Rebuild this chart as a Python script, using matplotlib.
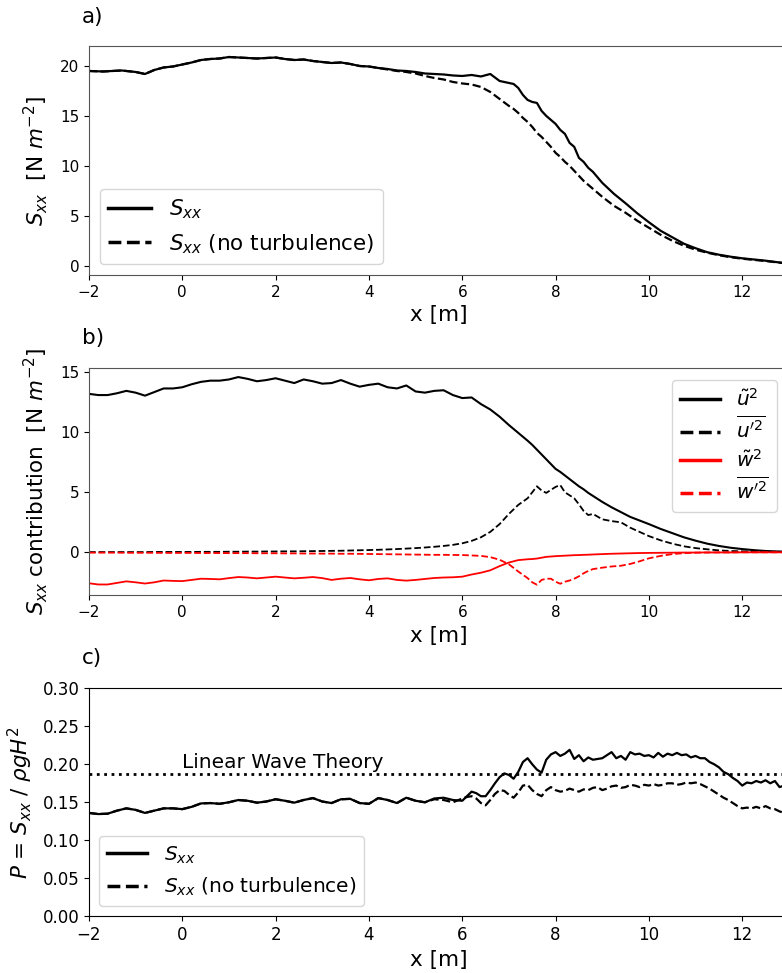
import numpy as np
import matplotlib
matplotlib.use('Agg')
import matplotlib.pyplot as plt

# ---- a) radiation stress along the flume ----
x_a = [-2.0, -1.7, -1.3, -1.0, -0.8, -0.6, -0.4, -0.2, 0.0, 0.2, 0.4, 0.6, 0.8, 1.0,
       1.2, 1.4, 1.6, 1.8, 2.0, 2.2, 2.4, 2.6, 2.8, 3.0, 3.2, 3.4, 3.6, 3.8, 4.0, 4.2,
       4.4, 4.6, 4.8, 5.0, 5.2, 5.4, 5.6, 5.8, 6.0, 6.2, 6.4, 6.6, 6.8, 7.0, 7.1, 7.2,
       7.3, 7.4, 7.5, 7.6, 7.7, 7.8, 7.9, 8.0, 8.1, 8.2, 8.3, 8.4, 8.5, 8.6, 8.7, 8.8,
       9.0, 9.25, 9.5, 9.75, 10.0, 10.25, 10.5, 10.75, 11.0, 11.25, 11.5, 11.75, 12.0,
       12.25, 12.5, 12.75, 13.0]
sxx_a = [19.5, 19.45, 19.55, 19.4, 19.2, 19.6, 19.85, 19.95, 20.15, 20.35, 20.6, 20.7,
         20.75, 20.9, 20.85, 20.8, 20.75, 20.8, 20.85, 20.7, 20.6, 20.65, 20.5, 20.4,
         20.3, 20.35, 20.2, 20.0, 19.95, 19.8, 19.7, 19.55, 19.5, 19.4, 19.25, 19.2,
         19.15, 19.05, 19.0, 19.1, 18.95, 19.2, 18.5, 18.3, 18.2, 17.8, 17.1, 16.6,
         16.4, 16.3, 15.5, 15.0, 14.6, 14.2, 13.6, 13.2, 12.3, 11.9, 10.8, 10.4, 9.8,
         9.4, 8.3, 7.2, 6.25, 5.25, 4.35, 3.5, 2.85, 2.2, 1.75, 1.35, 1.1, 0.9, 0.74,
         0.62, 0.5, 0.35, 0.2]
sxx_nt_a = [19.5, 19.45, 19.55, 19.4, 19.2, 19.6, 19.85, 19.95, 20.15, 20.35, 20.6, 20.7,
            20.75, 20.9, 20.85, 20.8, 20.75, 20.8, 20.85, 20.7, 20.6, 20.65, 20.5, 20.4,
            20.3, 20.35, 20.2, 20.0, 19.95, 19.8, 19.65, 19.5, 19.4, 19.25, 19.0, 18.8,
            18.65, 18.4, 18.25, 18.15, 17.9, 17.4, 16.7, 16.0, 15.7, 15.3, 14.8, 14.4,
            13.9, 13.3, 12.9, 12.4, 11.9, 11.3, 10.9, 10.4, 10.0, 9.5, 9.0, 8.5, 8.1,
            7.7, 6.9, 6.0, 5.3, 4.5, 3.8, 3.1, 2.5, 2.0, 1.6, 1.3, 1.05, 0.85, 0.7,
            0.58, 0.47, 0.33, 0.2]

# ---- b) contributions to Sxx ----
x_b = [-2.0, -1.8, -1.6, -1.4, -1.2, -1.0, -0.8, -0.6, -0.4, -0.2, 0.0, 0.2, 0.4, 0.6,
       0.8, 1.0, 1.2, 1.4, 1.6, 1.8, 2.0, 2.2, 2.4, 2.6, 2.8, 3.0, 3.2, 3.4, 3.6, 3.8,
       4.0, 4.2, 4.4, 4.6, 4.8, 5.0, 5.2, 5.4, 5.6, 5.8, 6.0, 6.2, 6.4, 6.6, 6.8, 7.0,
       7.2, 7.4, 7.5, 7.6, 7.7, 7.8, 7.9, 8.0, 8.1, 8.2, 8.3, 8.4, 8.5, 8.6, 8.7, 8.8,
       9.0, 9.2, 9.4, 9.6, 9.8, 10.0, 10.25, 10.5, 10.75, 11.0, 11.25, 11.5, 11.75,
       12.0, 12.25, 12.5, 12.75, 13.0]
u_wave = [13.2, 13.1, 13.1, 13.25, 13.45, 13.3, 13.05, 13.35, 13.65, 13.65, 13.75, 14.0,
          14.2, 14.3, 14.3, 14.4, 14.6, 14.45, 14.25, 14.35, 14.5, 14.3, 14.1, 14.4,
          14.25, 14.05, 14.1, 14.35, 14.05, 13.8, 13.95, 14.05, 13.75, 13.65, 13.9,
          13.4, 13.3, 13.45, 13.5, 13.1, 12.85, 12.9, 12.35, 11.9, 11.3, 10.6, 9.95,
          9.3, 8.95, 8.55, 8.15, 7.75, 7.35, 6.95, 6.7, 6.4, 6.1, 5.8, 5.5, 5.25, 4.95,
          4.7, 4.2, 3.75, 3.35, 2.95, 2.65, 2.35, 1.95, 1.6, 1.25, 0.97, 0.72, 0.53,
          0.38, 0.27, 0.18, 0.11, 0.07, 0.05]
u_turb = [0.02, 0.02, 0.02, 0.02, 0.02, 0.02, 0.02, 0.03, 0.03, 0.03, 0.03, 0.03, 0.04,
          0.04, 0.04, 0.05, 0.05, 0.06, 0.06, 0.07, 0.07, 0.08, 0.08, 0.09, 0.1, 0.11,
          0.12, 0.13, 0.15, 0.17, 0.19, 0.21, 0.24, 0.27, 0.31, 0.35, 0.4, 0.46, 0.53,
          0.62, 0.75, 0.95, 1.25, 1.7, 2.35, 3.2, 3.95, 4.5, 5.0, 5.5, 5.15, 4.95, 5.2,
          5.45, 5.6, 5.0, 4.75, 4.5, 4.0, 3.45, 3.1, 3.2, 2.75, 2.6, 2.5, 2.05, 1.7,
          1.35, 1.0, 0.72, 0.5, 0.35, 0.25, 0.16, 0.11, 0.08, 0.06, 0.05, 0.04, 0.03]
w_wave = [-2.58, -2.68, -2.68, -2.55, -2.42, -2.5, -2.6, -2.5, -2.35, -2.38, -2.4, -2.3,
          -2.2, -2.22, -2.25, -2.15, -2.06, -2.1, -2.17, -2.1, -2.03, -2.1, -2.17,
          -2.12, -2.06, -2.15, -2.3, -2.2, -2.14, -2.25, -2.33, -2.22, -2.17, -2.3,
          -2.36, -2.3, -2.22, -2.14, -2.1, -2.08, -2.03, -1.85, -1.7, -1.5, -1.15,
          -0.85, -0.65, -0.58, -0.56, -0.52, -0.45, -0.38, -0.35, -0.32, -0.3, -0.28,
          -0.26, -0.24, -0.23, -0.21, -0.2, -0.18, -0.15, -0.12, -0.1, -0.08, -0.06,
          -0.05, -0.04, -0.03, -0.02, -0.02, -0.01, -0.01, -0.01, 0.0, 0.0, 0.0, 0.0, 0.0]
w_turb = [-0.03, -0.03, -0.03, -0.03, -0.04, -0.04, -0.04, -0.04, -0.05, -0.05, -0.05,
          -0.05, -0.06, -0.06, -0.06, -0.07, -0.07, -0.07, -0.08, -0.08, -0.08, -0.09,
          -0.09, -0.1, -0.1, -0.11, -0.11, -0.12, -0.12, -0.13, -0.14, -0.15, -0.16,
          -0.17, -0.18, -0.19, -0.2, -0.21, -0.21, -0.22, -0.23, -0.26, -0.3, -0.4,
          -0.62, -1.0, -1.6, -2.15, -2.5, -2.7, -2.3, -2.2, -2.2, -2.45, -2.62, -2.45,
          -2.35, -2.2, -2.0, -1.75, -1.55, -1.4, -1.28, -1.18, -1.12, -0.97, -0.75,
          -0.5, -0.3, -0.15, -0.07, -0.03, -0.02, -0.01, -0.01, 0.0, 0.0, 0.0, 0.0, 0.0]

# ---- c) normalised Sxx ----
x_c = [-2.0, -1.8, -1.6, -1.4, -1.2, -1.0, -0.8, -0.6, -0.4, -0.2, 0.0, 0.2, 0.4, 0.6,
       0.8, 1.0, 1.2, 1.4, 1.6, 1.8, 2.0, 2.2, 2.4, 2.6, 2.8, 3.0, 3.2, 3.4, 3.6, 3.8,
       4.0, 4.2, 4.4, 4.6, 4.8, 5.0, 5.2, 5.4, 5.6, 5.8,
       6.0, 6.1, 6.2, 6.3, 6.4, 6.5, 6.6, 6.7, 6.8, 6.9, 7.0, 7.1, 7.2, 7.3, 7.4, 7.5,
       7.6, 7.7, 7.8, 7.9, 8.0, 8.1, 8.2, 8.3, 8.4, 8.5, 8.6, 8.7, 8.8, 8.9, 9.0, 9.1,
       9.2, 9.3, 9.4, 9.5, 9.6, 9.7, 9.8, 9.9, 10.0, 10.1, 10.2, 10.3, 10.4, 10.5,
       10.6, 10.7, 10.8, 10.9, 11.0, 11.1, 11.2, 11.3, 11.4, 11.5, 11.6, 11.7, 11.8,
       11.9, 12.0, 12.1, 12.2, 12.3, 12.4, 12.5, 12.6, 12.7, 12.8, 12.9, 13.0]
p_c = [0.136, 0.1345, 0.135, 0.139, 0.142, 0.140, 0.136, 0.139, 0.142, 0.142, 0.141,
       0.144, 0.1485, 0.149, 0.148, 0.150, 0.153, 0.152, 0.1495, 0.151, 0.154, 0.152,
       0.1495, 0.153, 0.1555, 0.151, 0.149, 0.154, 0.1545, 0.149, 0.148, 0.1555, 0.153,
       0.149, 0.156, 0.152, 0.150, 0.155, 0.156, 0.153,
       0.152, 0.158, 0.164, 0.162, 0.158, 0.158, 0.166, 0.175, 0.183, 0.188, 0.186,
       0.181, 0.190, 0.203, 0.208, 0.200, 0.193, 0.189, 0.206, 0.213, 0.216, 0.211,
       0.214, 0.219, 0.207, 0.212, 0.204, 0.209, 0.206, 0.207, 0.208, 0.212, 0.216,
       0.208, 0.211, 0.206, 0.216, 0.213, 0.214, 0.211, 0.212, 0.209, 0.215, 0.210,
       0.214, 0.212, 0.215, 0.212, 0.213, 0.209, 0.211, 0.208, 0.208, 0.203, 0.200,
       0.196, 0.190, 0.187, 0.182, 0.178, 0.172, 0.176, 0.175, 0.178, 0.176, 0.179,
       0.175, 0.178, 0.170, 0.172, 0.170]
p_nt_c = [0.136, 0.1345, 0.135, 0.139, 0.142, 0.140, 0.136, 0.139, 0.142, 0.142, 0.141,
          0.144, 0.1485, 0.149, 0.148, 0.150, 0.153, 0.152, 0.1495, 0.151, 0.154, 0.152,
          0.1495, 0.153, 0.1555, 0.151, 0.149, 0.154, 0.1545, 0.149, 0.148, 0.1555,
          0.153, 0.149, 0.156, 0.152, 0.150, 0.154, 0.153, 0.150,
          0.155, 0.157, 0.158, 0.155, 0.149, 0.146, 0.153, 0.161, 0.166, 0.165, 0.160,
          0.156, 0.163, 0.172, 0.173, 0.166, 0.161, 0.158, 0.166, 0.170, 0.166, 0.164,
          0.165, 0.168, 0.166, 0.164, 0.167, 0.166, 0.169, 0.170, 0.166, 0.168, 0.171,
          0.172, 0.169, 0.170, 0.173, 0.172, 0.170, 0.173, 0.172, 0.174, 0.172, 0.173,
          0.175, 0.175, 0.173, 0.174, 0.176, 0.175, 0.176, 0.174, 0.171, 0.168, 0.164,
          0.160, 0.156, 0.153, 0.149, 0.145, 0.142, 0.143, 0.142, 0.144, 0.142, 0.145,
          0.142, 0.141, 0.138, 0.136, 0.135]
p_linear = 0.1875


def style_axis(ax, ylim, spine_color):
    # x range goes a bit past the figure edge, like the original crop
    ax.set_xlim(-2, 13)
    ax.set_ylim(*ylim)
    ax.set_xticks([-2, 0, 2, 4, 6, 8, 10, 12])
    ax.set_xlabel('x [m]', fontsize=15.5)
    ax.tick_params(labelsize=11)
    for sp in ax.spines.values():
        sp.set_color(spine_color)


def thicken_legend(leg, lw):
    for line in leg.get_lines():
        line.set_linewidth(lw)


fig = plt.figure(figsize=(7.82, 9.73), dpi=100)

# a)
ax1 = fig.add_axes([0.1138, 0.7174, 0.895, 0.2353])
ax1.plot(x_a, sxx_a, color='black', lw=1.6, label=r'$S_{xx}$')
ax1.plot(x_a, sxx_nt_a, color='black', lw=1.6, ls='--', label=r'$S_{xx}$ (no turbulence)')
style_axis(ax1, (-0.93, 22.0), '#555555')
ax1.set_yticks([0, 5, 10, 15, 20])
ax1.set_ylabel(r'$S_{xx}$  [N $m^{-2}$]', fontsize=15.5)
ax1.yaxis.set_label_coords(-0.056, 0.5)
leg1 = ax1.legend(loc='lower left', fontsize=15.5)
thicken_legend(leg1, 2.5)
fig.text(82 / 782, 1 - 17 / 973, 'a)', fontsize=15.5, va='center')

# b)
ax2 = fig.add_axes([0.1138, 0.3882, 0.895, 0.2339])
ax2.plot(x_b, u_wave, color='black', lw=1.5, label=r'$\tilde{u}^2$')
ax2.plot(x_b, u_turb, color='black', lw=1.3, ls='--', label=r'$\overline{u^{\prime 2}}$')
ax2.plot(x_b, w_wave, color='red', lw=1.3, label=r'$\tilde{w}^2$')
ax2.plot(x_b, w_turb, color='red', lw=1.3, ls='--', label=r'$\overline{w^{\prime 2}}$')
style_axis(ax2, (-3.58, 15.38), '#555555')
ax2.set_yticks([0, 5, 10, 15])
ax2.set_ylabel(r'$S_{xx}$ contribution  [N $m^{-2}$]', fontsize=15.5)
ax2.yaxis.set_label_coords(-0.056, 0.5)
leg2 = ax2.legend(loc='upper right', fontsize=14.5, labelspacing=0.3,
                  borderaxespad=0.6)
thicken_legend(leg2, 2.5)
fig.text(82 / 782, 1 - 338 / 973, 'b)', fontsize=15.5, va='center')

# c)
ax3 = fig.add_axes([0.1138, 0.0583, 0.895, 0.2343])
ax3.plot(x_c, p_c, color='black', lw=1.6, label=r'$S_{xx}$')
ax3.plot(x_c, p_nt_c, color='black', lw=1.6, ls='--', label=r'$S_{xx}$ (no turbulence)')
ax3.axhline(p_linear, color='black', lw=2, ls=':')
ax3.text(0, 0.195, 'Linear Wave Theory', fontsize=14.5)
style_axis(ax3, (0, 0.30), 'black')
ax3.set_yticks([0.0, 0.05, 0.10, 0.15, 0.20, 0.25, 0.30])
ax3.set_yticklabels(['0.00', '0.05', '0.10', '0.15', '0.20', '0.25', '0.30'])
ax3.tick_params(labelsize=12)
ax3.set_ylabel(r'$P$ = $S_{xx}$ / $\rho g H^2$', fontsize=15.5)
ax3.yaxis.set_label_coords(-0.077, 0.5)
leg3 = ax3.legend(loc='lower left', fontsize=14.5)
thicken_legend(leg3, 2.5)
fig.text(82 / 782, 1 - 658 / 973, 'c)', fontsize=15.5, va='center')

fig.savefig('out.png', dpi=100)
plt.close(fig)
